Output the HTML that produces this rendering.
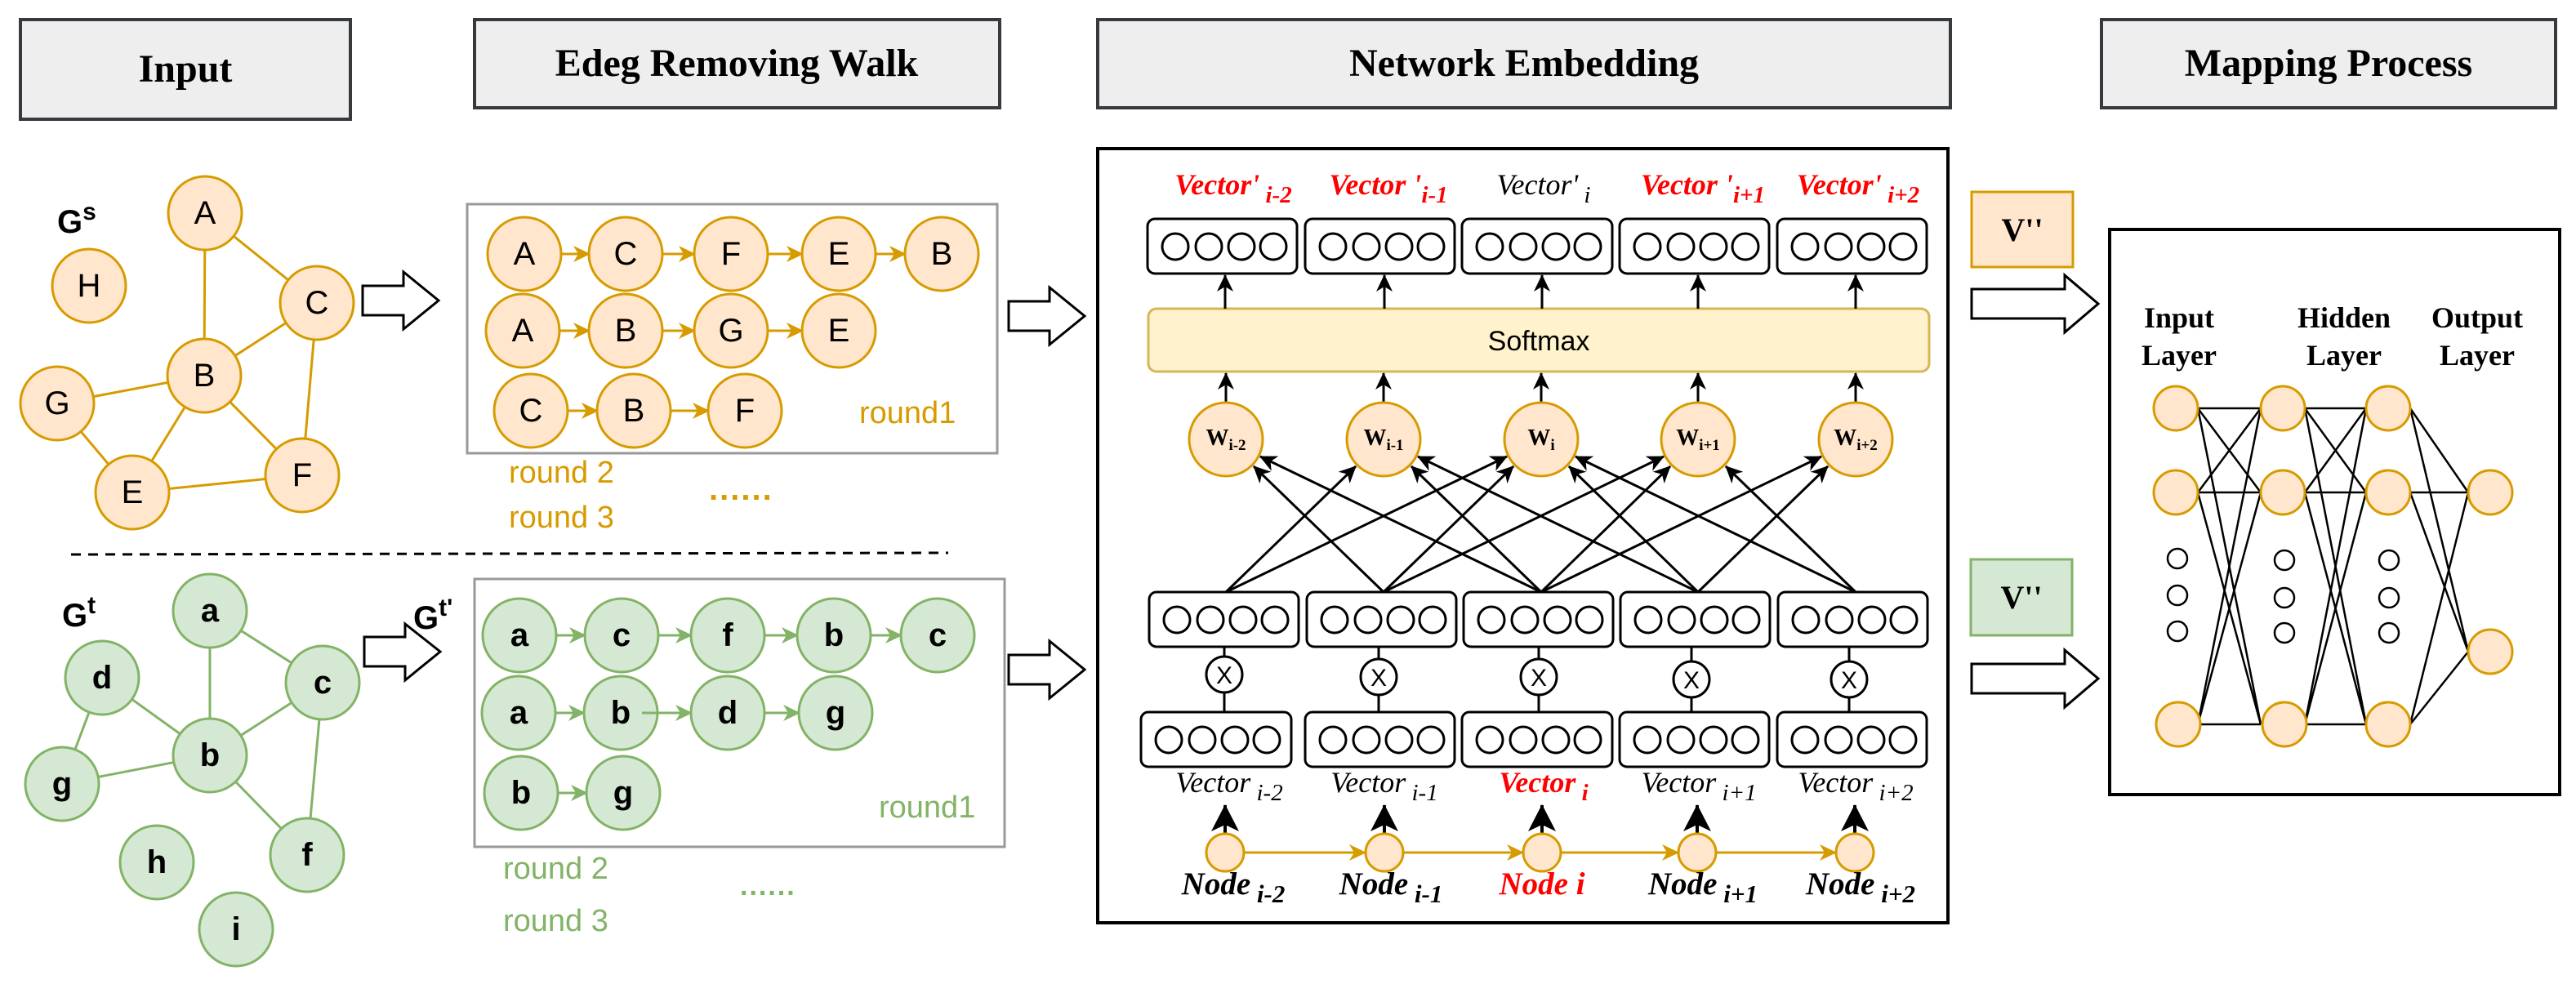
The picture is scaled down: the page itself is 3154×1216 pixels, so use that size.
<!DOCTYPE html>
<html><head><meta charset="utf-8"><style>
html,body{margin:0;padding:0;background:#fff;}
svg{display:block;}
.hd{font-family:"Liberation Serif",serif;font-weight:bold;font-size:48px;text-anchor:middle;}
.nl{font-family:"Liberation Sans",sans-serif;font-size:40px;text-anchor:middle;dominant-baseline:central;}
.nb{font-family:"Liberation Sans",sans-serif;font-size:40px;font-weight:bold;text-anchor:middle;dominant-baseline:central;}
.rd{font-family:"Liberation Sans",sans-serif;font-size:38px;}
.vi{font-family:"Liberation Serif",serif;font-style:italic;font-size:36px;text-anchor:middle;}
.vt{font-family:"Liberation Serif",serif;font-style:italic;font-weight:bold;font-size:36px;text-anchor:middle;}
.nd{font-family:"Liberation Serif",serif;font-style:italic;font-weight:bold;font-size:39px;text-anchor:middle;}
.w{font-family:"Liberation Serif",serif;font-weight:bold;font-size:28px;text-anchor:middle;}
.ly{font-family:"Liberation Serif",serif;font-weight:bold;font-size:36px;text-anchor:middle;}
</style></head><body>
<svg width="3154" height="1216" viewBox="0 0 3154 1216" xmlns="http://www.w3.org/2000/svg">
<defs>
<marker id="mo" markerWidth="22" markerHeight="22" refX="20" refY="11" orient="auto" markerUnits="userSpaceOnUse" viewBox="0 0 22 22"><path d="M0,1 L21,11 L0,21 L6,11 z" fill="#d79b00"/></marker>
<marker id="mg" markerWidth="22" markerHeight="22" refX="20" refY="11" orient="auto" markerUnits="userSpaceOnUse" viewBox="0 0 22 22"><path d="M0,1 L21,11 L0,21 L6,11 z" fill="#82b366"/></marker>
<marker id="mk" markerWidth="22" markerHeight="22" refX="20" refY="11" orient="auto" markerUnits="userSpaceOnUse" viewBox="0 0 22 22"><path d="M0,1 L21,11 L0,21 L6,11 z" fill="#000"/></marker>
<marker id="mb" markerWidth="34" markerHeight="34" refX="32" refY="17" orient="auto" markerUnits="userSpaceOnUse" viewBox="0 0 34 34"><path d="M0,0 L33,17 L0,34 L8,17 z" fill="#000"/></marker>
</defs>

<g stroke="#36393d" stroke-width="4" fill="#eeeeee">
<rect x="25" y="24" width="404" height="122"/>
<rect x="581" y="24" width="643" height="108"/>
<rect x="1344" y="24" width="1044" height="108"/>
<rect x="2573" y="24" width="556" height="108"/>
</g>
<text class="hd" x="227" y="100">Input</text>
<text class="hd" x="902" y="93">Edeg Removing Walk</text>
<text class="hd" x="1866" y="93">Network Embedding</text>
<text class="hd" x="2851" y="93">Mapping Process</text>

<g stroke="#d79b00" stroke-width="3">
<line x1="251" y1="261" x2="250" y2="460"/>
<line x1="251" y1="261" x2="388" y2="371"/>
<line x1="388" y1="371" x2="250" y2="460"/>
<line x1="70" y1="494" x2="250" y2="460"/>
<line x1="70" y1="494" x2="162" y2="603"/>
<line x1="162" y1="603" x2="250" y2="460"/>
<line x1="250" y1="460" x2="370" y2="582"/>
<line x1="388" y1="371" x2="370" y2="582"/>
<line x1="162" y1="603" x2="370" y2="582"/>
</g>
<g fill="#ffe6cc" stroke="#d79b00" stroke-width="3">
<circle cx="251" cy="261" r="45"/><circle cx="109" cy="350" r="45"/><circle cx="388" cy="371" r="45"/>
<circle cx="250" cy="460" r="45"/><circle cx="70" cy="494" r="45"/><circle cx="162" cy="603" r="45"/><circle cx="370" cy="582" r="45"/>
</g>
<text class="nl" x="251" y="261">A</text><text class="nl" x="109" y="350">H</text><text class="nl" x="388" y="371">C</text>
<text class="nl" x="250" y="460">B</text><text class="nl" x="70" y="494">G</text><text class="nl" x="162" y="603">E</text><text class="nl" x="370" y="582">F</text>
<text x="70" y="285" font-family="Liberation Sans,sans-serif" font-weight="bold" font-size="40">G<tspan font-size="30" dy="-16">s</tspan></text>

<rect x="572" y="250" width="649" height="305" fill="none" stroke="#999" stroke-width="3"/>
<g stroke="#d79b00" stroke-width="3" marker-end="url(#mo)">
<line x1="687" y1="311" x2="722" y2="311"/><line x1="811" y1="311" x2="851" y2="311"/><line x1="940" y1="311" x2="983" y2="311"/><line x1="1072" y1="311" x2="1109" y2="311"/>
<line x1="685" y1="405" x2="722" y2="405"/><line x1="811" y1="405" x2="851" y2="405"/><line x1="940" y1="405" x2="983" y2="405"/>
<line x1="695" y1="503" x2="732" y2="503"/><line x1="821" y1="503" x2="868" y2="503"/>
</g>
<g fill="#ffe6cc" stroke="#d79b00" stroke-width="3">
<circle cx="642" cy="311" r="45"/><circle cx="766" cy="311" r="45"/><circle cx="895" cy="311" r="45"/><circle cx="1027" cy="311" r="45"/><circle cx="1153" cy="311" r="45"/>
<circle cx="640" cy="405" r="45"/><circle cx="766" cy="405" r="45"/><circle cx="895" cy="405" r="45"/><circle cx="1027" cy="405" r="45"/>
<circle cx="650" cy="503" r="45"/><circle cx="776" cy="503" r="45"/><circle cx="912" cy="503" r="45"/>
</g>
<text class="nl" x="642" y="311">A</text><text class="nl" x="766" y="311">C</text><text class="nl" x="895" y="311">F</text><text class="nl" x="1027" y="311">E</text><text class="nl" x="1153" y="311">B</text>
<text class="nl" x="640" y="405">A</text><text class="nl" x="766" y="405">B</text><text class="nl" x="895" y="405">G</text><text class="nl" x="1027" y="405">E</text>
<text class="nl" x="650" y="503">C</text><text class="nl" x="776" y="503">B</text><text class="nl" x="912" y="503">F</text>
<text class="rd" x="1052" y="518" fill="#d79b00">round1</text>
<text class="rd" x="623" y="591" fill="#d79b00">round 2</text><text class="rd" x="623" y="646" fill="#d79b00">round 3</text>
<text x="868" y="612" fill="#d79b00" font-family="Liberation Sans,sans-serif" font-weight="bold" font-size="40" letter-spacing="2">......</text>

<polygon points="444,350 494,350 494,333 537,368 494,403 494,386 444,386" fill="#fff" stroke="#000" stroke-width="3"/>

<line x1="87" y1="679" x2="1161" y2="677" stroke="#000" stroke-width="3" stroke-dasharray="12,9"/>

<g stroke="#82b366" stroke-width="3">
<line x1="257" y1="748" x2="257" y2="925"/>
<line x1="257" y1="748" x2="395" y2="836"/>
<line x1="395" y1="836" x2="257" y2="925"/>
<line x1="125" y1="830" x2="257" y2="925"/>
<line x1="125" y1="830" x2="76" y2="960"/>
<line x1="76" y1="960" x2="257" y2="925"/>
<line x1="257" y1="925" x2="376" y2="1047"/>
<line x1="395" y1="836" x2="376" y2="1047"/>
</g>
<g fill="#d5e8d4" stroke="#82b366" stroke-width="3">
<circle cx="257" cy="748" r="45"/><circle cx="125" cy="830" r="45"/><circle cx="395" cy="836" r="45"/><circle cx="257" cy="925" r="45"/>
<circle cx="76" cy="960" r="45"/><circle cx="376" cy="1047" r="45"/><circle cx="192" cy="1056" r="45"/><circle cx="289" cy="1138" r="45"/>
</g>
<text class="nb" x="257" y="748">a</text><text class="nb" x="125" y="830">d</text><text class="nb" x="395" y="836">c</text><text class="nb" x="257" y="925">b</text>
<text class="nb" x="76" y="960">g</text><text class="nb" x="376" y="1047">f</text><text class="nb" x="192" y="1056">h</text><text class="nb" x="289" y="1138">i</text>
<text x="76" y="767" font-family="Liberation Sans,sans-serif" font-weight="bold" font-size="40">G<tspan font-size="30" dy="-16">t</tspan></text>
<text x="506" y="770" font-family="Liberation Sans,sans-serif" font-weight="bold" font-size="40">G<tspan font-size="30" dy="-16">t'</tspan></text>

<rect x="581" y="709" width="649" height="328" fill="none" stroke="#999" stroke-width="3"/>
<g stroke="#82b366" stroke-width="3" marker-end="url(#mg)">
<line x1="681" y1="778" x2="717" y2="778"/><line x1="806" y1="778" x2="847" y2="778"/><line x1="936" y1="778" x2="977" y2="778"/><line x1="1066" y1="778" x2="1104" y2="778"/>
<line x1="680" y1="873" x2="716" y2="873"/><line x1="786" y1="873" x2="847" y2="873"/><line x1="936" y1="873" x2="979" y2="873"/>
<line x1="683" y1="971" x2="719" y2="971"/>
</g>
<g fill="#d5e8d4" stroke="#82b366" stroke-width="3">
<circle cx="636" cy="778" r="45"/><circle cx="761" cy="778" r="45"/><circle cx="891" cy="778" r="45"/><circle cx="1021" cy="778" r="45"/><circle cx="1148" cy="778" r="45"/>
<circle cx="635" cy="873" r="45"/><circle cx="760" cy="873" r="45"/><circle cx="891" cy="873" r="45"/><circle cx="1023" cy="873" r="45"/>
<circle cx="638" cy="971" r="45"/><circle cx="763" cy="971" r="45"/>
</g>
<line x1="786" y1="873" x2="846" y2="873" stroke="#82b366" stroke-width="3"/>
<text class="nb" x="636" y="778">a</text><text class="nb" x="761" y="778">c</text><text class="nb" x="891" y="778">f</text><text class="nb" x="1021" y="778">b</text><text class="nb" x="1148" y="778">c</text>
<text class="nb" x="635" y="873">a</text><text class="nb" x="760" y="873">b</text><text class="nb" x="891" y="873">d</text><text class="nb" x="1023" y="873">g</text>
<text class="nb" x="638" y="971">b</text><text class="nb" x="763" y="971">g</text>
<text class="rd" x="1076" y="1001" fill="#82b366">round1</text>
<text class="rd" x="616" y="1076" fill="#82b366">round 2</text><text class="rd" x="616" y="1140" fill="#82b366">round 3</text>
<text x="906" y="1096" fill="#82b366" font-family="Liberation Sans,sans-serif" font-weight="bold" font-size="34" letter-spacing="2">......</text>

<polygon points="446,780 496,780 496,764 539,798 496,833 496,816 446,816" fill="#fff" stroke="#000" stroke-width="3"/>
<polygon points="1235,369 1285,369 1285,352 1328,387 1285,422 1285,405 1235,405" fill="#fff" stroke="#000" stroke-width="3"/>
<polygon points="1235,802 1285,802 1285,785 1328,820 1285,855 1285,838 1235,838" fill="#fff" stroke="#000" stroke-width="3"/>

<rect x="1344" y="182" width="1041" height="948" fill="none" stroke="#000" stroke-width="4"/>
<text class="vt" x="1510" y="238" fill="#ff0000">Vector'<tspan font-size="29" dy="10"> i-2</tspan></text>
<text class="vt" x="1700" y="238" fill="#ff0000">Vector '<tspan font-size="29" dy="10">i-1</tspan></text>
<text class="vi" x="1890" y="238">Vector'<tspan font-size="29" dy="10"> i</tspan></text>
<text class="vt" x="2085" y="238" fill="#ff0000">Vector '<tspan font-size="29" dy="10">i+1</tspan></text>
<text class="vt" x="2275" y="238" fill="#ff0000">Vector'<tspan font-size="29" dy="10"> i+2</tspan></text>

<g fill="#fff" stroke="#000" stroke-width="3">
<rect x="1405" y="268" width="183" height="67" rx="9"/><rect x="1598" y="268" width="183" height="67" rx="9"/><rect x="1790" y="268" width="184" height="67" rx="9"/><rect x="1983" y="268" width="183" height="67" rx="9"/><rect x="2176" y="268" width="183" height="67" rx="9"/>
<rect x="1407" y="725" width="183" height="67" rx="9"/><rect x="1600" y="725" width="183" height="67" rx="9"/><rect x="1792" y="725" width="183" height="67" rx="9"/><rect x="1984" y="725" width="183" height="67" rx="9"/><rect x="2177" y="725" width="183" height="67" rx="9"/>
<rect x="1397" y="872" width="184" height="67" rx="9"/><rect x="1598" y="872" width="183" height="67" rx="9"/><rect x="1790" y="872" width="184" height="67" rx="9"/><rect x="1983" y="872" width="183" height="67" rx="9"/><rect x="2176" y="872" width="183" height="67" rx="9"/>
</g>
<g fill="none" stroke="#000" stroke-width="3">
<circle cx="1439" cy="302" r="16"/><circle cx="1480" cy="302" r="16"/><circle cx="1520" cy="302" r="16"/><circle cx="1559" cy="302" r="16"/>
<circle cx="1632" cy="302" r="16"/><circle cx="1673" cy="302" r="16"/><circle cx="1713" cy="302" r="16"/><circle cx="1752" cy="302" r="16"/>
<circle cx="1824" cy="302" r="16"/><circle cx="1865" cy="302" r="16"/><circle cx="1905" cy="302" r="16"/><circle cx="1944" cy="302" r="16"/>
<circle cx="2017" cy="302" r="16"/><circle cx="2058" cy="302" r="16"/><circle cx="2098" cy="302" r="16"/><circle cx="2137" cy="302" r="16"/>
<circle cx="2210" cy="302" r="16"/><circle cx="2251" cy="302" r="16"/><circle cx="2291" cy="302" r="16"/><circle cx="2330" cy="302" r="16"/>
<circle cx="1441" cy="759" r="16"/><circle cx="1482" cy="759" r="16"/><circle cx="1522" cy="759" r="16"/><circle cx="1561" cy="759" r="16"/>
<circle cx="1634" cy="759" r="16"/><circle cx="1675" cy="759" r="16"/><circle cx="1715" cy="759" r="16"/><circle cx="1754" cy="759" r="16"/>
<circle cx="1826" cy="759" r="16"/><circle cx="1867" cy="759" r="16"/><circle cx="1907" cy="759" r="16"/><circle cx="1946" cy="759" r="16"/>
<circle cx="2018" cy="759" r="16"/><circle cx="2059" cy="759" r="16"/><circle cx="2099" cy="759" r="16"/><circle cx="2138" cy="759" r="16"/>
<circle cx="2211" cy="759" r="16"/><circle cx="2252" cy="759" r="16"/><circle cx="2292" cy="759" r="16"/><circle cx="2331" cy="759" r="16"/>
<circle cx="1431" cy="906" r="16"/><circle cx="1472" cy="906" r="16"/><circle cx="1512" cy="906" r="16"/><circle cx="1551" cy="906" r="16"/>
<circle cx="1632" cy="906" r="16"/><circle cx="1673" cy="906" r="16"/><circle cx="1713" cy="906" r="16"/><circle cx="1752" cy="906" r="16"/>
<circle cx="1824" cy="906" r="16"/><circle cx="1865" cy="906" r="16"/><circle cx="1905" cy="906" r="16"/><circle cx="1944" cy="906" r="16"/>
<circle cx="2017" cy="906" r="16"/><circle cx="2058" cy="906" r="16"/><circle cx="2098" cy="906" r="16"/><circle cx="2137" cy="906" r="16"/>
<circle cx="2210" cy="906" r="16"/><circle cx="2251" cy="906" r="16"/><circle cx="2291" cy="906" r="16"/><circle cx="2330" cy="906" r="16"/>
</g>
<rect x="1406" y="378" width="956" height="77" rx="10" fill="#fff2cc" stroke="#d6b656" stroke-width="3"/>
<text x="1884" y="429" text-anchor="middle" font-family="Liberation Sans,sans-serif" font-size="34">Softmax</text>
<g stroke="#000" stroke-width="3" marker-end="url(#mk)">
<line x1="1500" y1="378" x2="1500" y2="337"/><line x1="1695" y1="378" x2="1695" y2="337"/><line x1="1888" y1="378" x2="1888" y2="337"/><line x1="2079" y1="378" x2="2079" y2="337"/><line x1="2272" y1="378" x2="2272" y2="337"/>
<line x1="1501" y1="493" x2="1501" y2="457"/><line x1="1694" y1="493" x2="1694" y2="457"/><line x1="1887" y1="493" x2="1887" y2="457"/><line x1="2079" y1="493" x2="2079" y2="457"/><line x1="2272" y1="493" x2="2272" y2="457"/>
<line x1="1501" y1="725" x2="1660" y2="571"/><line x1="1501" y1="725" x2="1845" y2="559"/>
<line x1="1694" y1="725" x2="1535" y2="571"/><line x1="1694" y1="725" x2="1853" y2="571"/><line x1="1694" y1="725" x2="2037" y2="559"/>
<line x1="1887" y1="725" x2="1543" y2="559"/><line x1="1887" y1="725" x2="1728" y2="571"/><line x1="1887" y1="725" x2="2045" y2="571"/><line x1="1887" y1="725" x2="2230" y2="559"/>
<line x1="2079" y1="725" x2="1736" y2="559"/><line x1="2079" y1="725" x2="1921" y2="571"/><line x1="2079" y1="725" x2="2238" y2="571"/>
<line x1="2272" y1="725" x2="1929" y2="559"/><line x1="2272" y1="725" x2="2113" y2="571"/>
</g>
<g fill="#ffe6cc" stroke="#d79b00" stroke-width="3">
<circle cx="1501" cy="538" r="45"/><circle cx="1694" cy="538" r="45"/><circle cx="1887" cy="538" r="45"/><circle cx="2079" cy="538" r="45"/><circle cx="2272" cy="538" r="45"/>
</g>
<text class="w" x="1501" y="545">W<tspan font-size="19" dy="6">i-2</tspan></text>
<text class="w" x="1694" y="545">W<tspan font-size="19" dy="6">i-1</tspan></text>
<text class="w" x="1887" y="545">W<tspan font-size="19" dy="6">i</tspan></text>
<text class="w" x="2079" y="545">W<tspan font-size="19" dy="6">i+1</tspan></text>
<text class="w" x="2272" y="545">W<tspan font-size="19" dy="6">i+2</tspan></text>
<g stroke="#000" stroke-width="3">
<line x1="1499" y1="792" x2="1499" y2="872"/><line x1="1688" y1="792" x2="1688" y2="872"/><line x1="1884" y1="792" x2="1884" y2="872"/><line x1="2071" y1="792" x2="2071" y2="872"/><line x1="2264" y1="792" x2="2264" y2="872"/>
</g>
<g fill="#fff" stroke="#000" stroke-width="3">
<circle cx="1499" cy="826" r="22"/><circle cx="1688" cy="829" r="22"/><circle cx="1884" cy="829" r="22"/><circle cx="2071" cy="832" r="22"/><circle cx="2264" cy="832" r="22"/>
</g>
<g font-family="Liberation Sans,sans-serif" font-size="30" text-anchor="middle">
<text x="1499" y="837">X</text><text x="1688" y="840">X</text><text x="1884" y="840">X</text><text x="2071" y="843">X</text><text x="2264" y="843">X</text>
</g>
<text class="vi" x="1505" y="970">Vector<tspan font-size="29" dy="10"> i-2</tspan></text>
<text class="vi" x="1695" y="970">Vector<tspan font-size="29" dy="10"> i-1</tspan></text>
<text class="vt" x="1890" y="970" fill="#ff0000" font-weight="normal">Vector<tspan font-size="29" dy="10"> i</tspan></text>
<text class="vi" x="2080" y="970">Vector<tspan font-size="29" dy="10"> i+1</tspan></text>
<text class="vi" x="2272" y="970">Vector<tspan font-size="29" dy="10"> i+2</tspan></text>
<g stroke="#000" stroke-width="4" marker-end="url(#mb)">
<line x1="1500" y1="1022" x2="1500" y2="986"/><line x1="1695" y1="1022" x2="1695" y2="986"/><line x1="1888" y1="1022" x2="1888" y2="986"/><line x1="2078" y1="1022" x2="2078" y2="986"/><line x1="2271" y1="1022" x2="2271" y2="986"/>
</g>
<g stroke="#d79b00" stroke-width="3" marker-end="url(#mo)">
<line x1="1523" y1="1044" x2="1672" y2="1044"/><line x1="1718" y1="1044" x2="1865" y2="1044"/><line x1="1911" y1="1044" x2="2055" y2="1044"/><line x1="2101" y1="1044" x2="2248" y2="1044"/>
</g>
<g fill="#ffe6cc" stroke="#d79b00" stroke-width="3">
<circle cx="1500" cy="1044" r="23"/><circle cx="1695" cy="1044" r="23"/><circle cx="1888" cy="1044" r="23"/><circle cx="2078" cy="1044" r="23"/><circle cx="2271" cy="1044" r="23"/>
</g>
<text class="nd" x="1510" y="1095">Node<tspan font-size="31" dy="10"> i-2</tspan></text>
<text class="nd" x="1703" y="1095">Node<tspan font-size="31" dy="10"> i-1</tspan></text>
<text class="nd" x="1888" y="1095" fill="#ff0000">Node i</text>
<text class="nd" x="2085" y="1095">Node<tspan font-size="31" dy="10"> i+1</tspan></text>
<text class="nd" x="2278" y="1095">Node<tspan font-size="31" dy="10"> i+2</tspan></text>

<rect x="2414" y="235" width="124" height="92" fill="#ffe6cc" stroke="#d79b00" stroke-width="3"/>
<text x="2476" y="295" text-anchor="middle" font-family="Liberation Serif,serif" font-weight="bold" font-size="40">V''</text>
<rect x="2413" y="685" width="124" height="93" fill="#d5e8d4" stroke="#82b366" stroke-width="3"/>
<text x="2475" y="745" text-anchor="middle" font-family="Liberation Serif,serif" font-weight="bold" font-size="40">V''</text>
<polygon points="2414,354 2528,354 2528,337 2569,372 2528,407 2528,390 2414,390" fill="#fff" stroke="#000" stroke-width="3"/>
<polygon points="2414,813 2528,813 2528,796 2569,831 2528,866 2528,849 2414,849" fill="#fff" stroke="#000" stroke-width="3"/>
<rect x="2583" y="281" width="551" height="692" fill="#fff" stroke="#000" stroke-width="4"/>
<text class="ly" x="2668" y="401">Input</text><text class="ly" x="2668" y="447">Layer</text>
<text class="ly" x="2870" y="401">Hidden</text><text class="ly" x="2870" y="447">Layer</text>
<text class="ly" x="3033" y="401">Output</text><text class="ly" x="3033" y="447">Layer</text>
<g stroke="#000" stroke-width="2.5">
<line x1="2691" y1="500" x2="2768" y2="500"/><line x1="2691" y1="500" x2="2768" y2="603"/><line x1="2691" y1="500" x2="2768" y2="887"/>
<line x1="2691" y1="603" x2="2768" y2="500"/><line x1="2691" y1="603" x2="2768" y2="603"/><line x1="2691" y1="603" x2="2768" y2="887"/>
<line x1="2691" y1="887" x2="2768" y2="500"/><line x1="2691" y1="887" x2="2768" y2="603"/><line x1="2691" y1="887" x2="2768" y2="887"/>
<line x1="2822" y1="500" x2="2897" y2="500"/><line x1="2822" y1="500" x2="2897" y2="603"/><line x1="2822" y1="500" x2="2897" y2="887"/>
<line x1="2822" y1="603" x2="2897" y2="500"/><line x1="2822" y1="603" x2="2897" y2="603"/><line x1="2822" y1="603" x2="2897" y2="887"/>
<line x1="2822" y1="887" x2="2897" y2="500"/><line x1="2822" y1="887" x2="2897" y2="603"/><line x1="2822" y1="887" x2="2897" y2="887"/>
<line x1="2951" y1="500" x2="3022" y2="603"/><line x1="2951" y1="500" x2="3022" y2="798"/>
<line x1="2951" y1="603" x2="3022" y2="603"/><line x1="2951" y1="603" x2="3022" y2="798"/>
<line x1="2951" y1="887" x2="3022" y2="603"/><line x1="2951" y1="887" x2="3022" y2="798"/>
</g>
<g fill="#ffe6cc" stroke="#d79b00" stroke-width="3">
<circle cx="2664" cy="500" r="27"/><circle cx="2664" cy="603" r="27"/><circle cx="2667" cy="887" r="27"/>
<circle cx="2795" cy="500" r="27"/><circle cx="2795" cy="603" r="27"/><circle cx="2797" cy="887" r="27"/>
<circle cx="2924" cy="500" r="27"/><circle cx="2924" cy="603" r="27"/><circle cx="2924" cy="887" r="27"/>
<circle cx="3049" cy="603" r="27"/><circle cx="3049" cy="798" r="27"/>
</g>
<g fill="none" stroke="#000" stroke-width="2.5">
<circle cx="2666" cy="684" r="12"/><circle cx="2666" cy="729" r="12"/><circle cx="2666" cy="773" r="12"/>
<circle cx="2797" cy="686" r="12"/><circle cx="2797" cy="732" r="12"/><circle cx="2797" cy="775" r="12"/>
<circle cx="2925" cy="686" r="12"/><circle cx="2925" cy="732" r="12"/><circle cx="2925" cy="775" r="12"/>
</g>
</svg>
</body></html>
